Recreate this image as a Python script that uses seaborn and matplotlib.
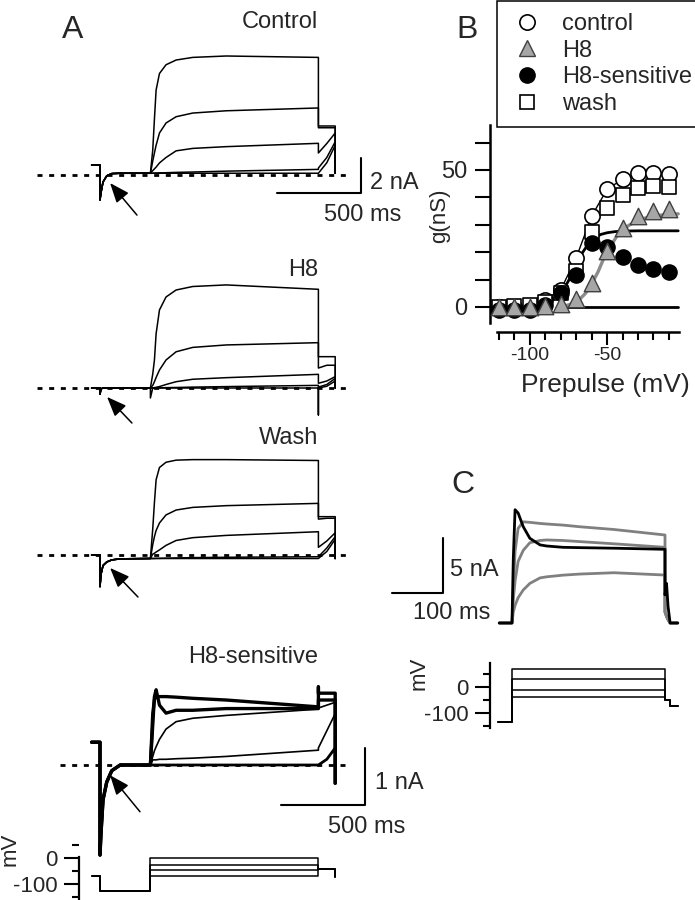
import matplotlib
matplotlib.use("Agg")
import matplotlib.pyplot as plt
import seaborn as sns
from matplotlib.lines import Line2D

# ============================
# DATA
# ============================

# --- panel A: current traces (time in ms, current in nA) ---
pre_t = [-50, 0, 0, 6, 18, 40, 70, 120, 300]
pulse_t = [300, 314, 324, 334, 354, 393, 453, 552, 751, 1300]
tail_t = [1300, 1300, 1350, 1400, 1400]

ctrl_pre = [0.57, 0.57, -1.43, -1.0, -0.4, -0.05, 0.08, 0.1, 0.1]
ctrl_pulse = [[0.1, 1.43, 3.2, 4.86, 5.8, 6.3, 6.57, 6.72, 6.8, 6.72],
              [0.1, 0.8, 1.26, 1.7, 2.4, 2.97, 3.33, 3.54, 3.67, 3.83],
              [0.1, 0.25, 0.35, 0.45, 0.69, 1.0, 1.38, 1.52, 1.62, 1.81],
              [0.1, 0.1, 0.11, 0.11, 0.12, 0.13, 0.15, 0.17, 0.22, 0.32],
              [0.1, 0.1, 0.1, 0.1, 0.1, 0.1, 0.1, 0.1, 0.1, 0.1]]
ctrl_tail = [[2.8, 2.8, 2.8, 2.8, 0.1],
             [2.7, 2.7, 2.7, 2.7, 0.1],
             [1.26, 1.26, 1.8, 2.4, 0.1],
             [0.4, 0.4, 1.0, 1.9, 0.1],
             [0.1, 0.1, 0.7, 1.7, 0.1]]

h8_pre = [0.0, 0.0, -0.35, -0.05, 0.0, 0.0, 0.0, 0.0, 0.0]
h8_pulse = [[0.0, 0.8, 1.6, 3.1, 4.46, 5.2, 5.6, 5.8, 5.89, 5.64],
            [0.0, 0.15, 0.36, 0.6, 1.03, 1.6, 2.07, 2.32, 2.46, 2.59],
            [0.0, 0.01, 0.02, 0.04, 0.08, 0.2, 0.36, 0.5, 0.59, 0.78],
            [0.0, 0.0, 0.0, 0.01, 0.01, 0.02, 0.03, 0.05, 0.08, 0.15],
            [-0.57, 0.0, 0.0, 0.0, 0.0, 0.0, 0.0, 0.0, 0.0, 0.0]]
h8_tail = [[1.79, 1.79, 1.79, 1.79, 0.0],
           [1.14, 1.14, 1.3, 1.3, 0.0],
           [0.27, 0.27, 0.4, 0.65, 0.0],
           [0.05, 0.05, 0.2, 0.55, 0.0],
           [-1.54, 0.0, 0.1, 0.4, 0.0]]

wash_pre = [0.0, 0.0, -1.81, -1.1, -0.6, -0.4, -0.28, -0.22, -0.2]
wash_pulse = [[-0.2, 1.5, 3.0, 4.3, 5.0, 5.3, 5.42, 5.45, 5.45, 5.4],
              [-0.2, 0.6, 1.05, 1.4, 1.83, 2.29, 2.57, 2.72, 2.82, 2.95],
              [-0.2, 0.05, 0.1, 0.17, 0.29, 0.55, 0.83, 0.99, 1.12, 1.33],
              [-0.2, -0.2, -0.2, -0.19, -0.19, -0.18, -0.17, -0.15, -0.13, -0.1],
              [-0.2, -0.2, -0.2, -0.2, -0.2, -0.2, -0.2, -0.2, -0.2, -0.2]]
wash_tail = [[2.19, 2.19, 2.19, 2.19, -0.2],
             [2.05, 2.05, 2.1, 2.1, -0.2],
             [0.44, 0.44, 0.8, 1.27, -0.2],
             [-0.1, -0.1, 0.4, 1.05, -0.2],
             [-0.2, -0.2, 0.2, 0.9, -0.2]]

hs_pre = [0.4, 0.4, -1.58, -1.2, -0.61, -0.3, -0.1, 0.0, 0.0]
hs_pulse = [[0.0, 0.9, 1.15, 1.2, 1.2, 1.2, 1.19, 1.17, 1.14, 1.02],
            [0.0, 0.7, 1.2, 1.32, 1.05, 0.91, 0.96, 0.96, 0.99, 0.99],
            [0.0, 0.15, 0.25, 0.32, 0.45, 0.63, 0.76, 0.82, 0.87, 0.98],
            [0.0, 0.09, 0.09, 0.09, 0.1, 0.1, 0.11, 0.12, 0.15, 0.26],
            [0.0, 0.0, 0.0, 0.0, 0.0, 0.0, 0.0, 0.0, 0.0, 0.0]]
hs_tail = [[1.37, 1.26, 1.26, 1.26, -0.32],
           [1.14, 1.14, 1.14, 1.14, -0.32],
           [0.98, 1.0, 1.05, 1.1, 0.0],
           [0.26, 0.3, 0.6, 0.9, 0.0],
           [0.0, 0.0, 0.1, 0.3, 0.0]]

# panel A voltage protocol (ms, mV)
prot_a_t = [-48, 0, 0, 300, 300, 1300, 1300, 1400, 1400]
prot_a_levels = [0, -26, -48, -70]
prot_a_hold, prot_a_pre, prot_a_tail, prot_a_end = -70, -130, -41, -74

# --- panel B: conductance vs prepulse ---
prepulse = [-120, -110, -100, -90, -80, -70, -60, -50, -40, -30, -20, -10]
g_control = [0, 0, 0, 2.7, 6.3, 18, 33.2, 43, 46.6, 49, 49, 48.5]
g_h8 = [0, 0, 0, 0.2, 1.2, 3, 8.7, 20.6, 29, 33.2, 35.2, 35.7]
g_h8s = [-1, -1, -1, 0.8, 5, 11.8, 23.3, 22, 18.2, 15.4, 13.8, 12.6]
g_wash = [0, 0.5, 0.8, 2, 5, 13, 27.5, 36, 41, 43.3, 44.2, 43.7]

fit_h8_v = [-80, -76, -72, -68, -64, -60, -56, -52, -48, -44, -40, -36, -32, -28, -24, -20, -14, -8, -4]
fit_h8_g = [0.3, 0.6, 1.3, 2.7, 5.0, 8.5, 12.7, 18.0, 22.0, 25.6, 28.0, 29.8, 31.0, 32.0, 32.7, 33.2, 33.6, 33.9, 34.0]
fit_h8s_v = [-121, -110, -100, -95, -90, -86, -82, -78, -74, -70, -66, -62, -58, -54, -50, -45, -40, -30, -4]
fit_h8s_g = [0, 0.1, 0.4, 0.8, 1.4, 2.4, 3.9, 6.6, 10.6, 15.0, 19.8, 23.2, 25.3, 26.5, 27.1, 27.5, 27.7, 27.8, 27.8]
zero_v = [-76, -4]
zero_g = [0, 0]

# --- panel C: currents (ms, nA) and protocol (mV) ---
c_t = [-25, 0, 2.5, 6, 12, 22, 35, 55, 68, 100, 133, 200, 300]
c_black = [0, 0, 5.76, 10.3, 10.0, 8.76, 7.7, 7.1, 7.0, 6.88, 6.85, 6.8, 6.7]
c_gray = [[0, 0, 3.0, 6.5, 8.6, 9.2, 9.15, 9.05, 9.0, 8.9, 8.75, 8.5, 8.0],
          [0, 0, 2.1, 3.8, 5.6, 6.6, 7.3, 7.5, 7.55, 7.5, 7.4, 7.2, 6.88],
          [0, 0, 1.0, 1.6, 2.3, 3.0, 3.6, 4.1, 4.2, 4.35, 4.45, 4.57, 4.36]]
c_tail_t = [300, 300, 303, 306, 310, 325]
c_black_tail = [6.7, 2.55, 3.6, 1.5, 0.0, 0.0]
c_gray_tail = [[8.0, 1.0, 0.6, 0.3, 0.0, 0.0],
               [6.88, 1.0, 0.6, 0.3, 0.0, 0.0],
               [4.36, 1.0, 0.6, 0.3, 0.0, 0.0]]

prot_c_t = [-27.5, 0, 0, 300, 300, 310, 310, 325]
prot_c_levels = [70, 30, -10, -40]
prot_c_hold, prot_c_tail, prot_c_end = -135, -50, -73

# ============================
# FIGURE
# ============================
sns.set_theme(style="white")
plt.rcParams['font.family'] = ['Liberation Sans', 'DejaVu Sans']
plt.rcParams['axes.unicode_minus'] = False

W, H = 695, 900
fig = plt.figure(figsize=(W / 100, H / 100), dpi=100)


def px_axes(x0, y0, x1, y1):
    ax = fig.add_axes([x0 / W, 1 - y1 / H, (x1 - x0) / W, (y1 - y0) / H])
    ax.patch.set_alpha(0)
    return ax


def draw_traces(ax, pre, pulses, tails, widths):
    for pulse, tail, lw in zip(pulses, tails, widths):
        sns.lineplot(x=pre_t + pulse_t + tail_t, y=pre + pulse + tail, ax=ax,
                     color='black', lw=lw, estimator=None, sort=False)


def arrow(ax, tip, tail):
    ax.annotate('', xy=tip, xytext=tail,
                arrowprops=dict(arrowstyle='-|>,head_length=0.8,head_width=0.32',
                                color='black', lw=1.1, mutation_scale=15,
                                shrinkA=0, shrinkB=0))


MS_PX = 1000 / 168      # ms per pixel in panel A
A_X = ((30 - 100) * MS_PX, (370 - 100) * MS_PX)
dash = dict(color='black', lw=2.0, ls=(0, (1.8, 2.4)))

# Control
ax = px_axes(30, 45, 370, 225)
ax.set_xlim(*A_X); ax.set_ylim(-50 / 17.5, 130 / 17.5)
ax.plot([-375, 1470], [0, 0], **dash)
draw_traces(ax, ctrl_pre, ctrl_pulse, ctrl_tail, [1.1] * 5)
arrow(ax, (60, -0.46), (220, -2.29))
ax.plot([1053, 1553, 1553], [-1.03, -1.03, 0.97], color='black', lw=1.5)
ax.text(1607, -0.46, '2 nA', fontsize=17, ha='left', va='center')
ax.text(1565, -2.29, '500 ms', fontsize=17, ha='center', va='center')
ax.text(1300, 8.74, 'Control', fontsize=17, ha='right', va='center')
ax.axis('off')

# H8
ax = px_axes(30, 280, 370, 430)
ax.set_xlim(*A_X); ax.set_ylim(-42 / 17.5, 108 / 17.5)
ax.plot([-375, 1470], [0, 0], **dash)
draw_traces(ax, h8_pre, h8_pulse, h8_tail, [1.1] * 5)
arrow(ax, (42, -0.51), (190, -2.0))
ax.text(1300, 6.74, 'H8', fontsize=17, ha='right', va='center')
ax.axis('off')

# Wash
ax = px_axes(30, 450, 370, 605)
ax.set_xlim(*A_X); ax.set_ylim(-50 / 17.5, 105 / 17.5)
ax.plot([-375, 1470], [0, 0], **dash)
draw_traces(ax, wash_pre, wash_pulse, wash_tail, [1.1] * 5)
arrow(ax, (60, -0.74), (226, -2.4))
ax.text(1300, 6.69, 'Wash', fontsize=17, ha='right', va='center')
ax.axis('off')

# H8-sensitive
ax = px_axes(30, 680, 370, 860)
ax.set_xlim(*A_X); ax.set_ylim(-95 / 57, 85 / 57)
ax.plot([-238, 1470], [0, 0], **dash)
draw_traces(ax, hs_pre, hs_pulse, hs_tail, [2.4, 2.4, 1.2, 1.2, 2.0])
arrow(ax, (60, -0.18), (238, -0.82))
ax.plot([1077, 1577, 1577], [-0.7, -0.7, 0.3], color='black', lw=1.5)
ax.text(1637, -0.32, '1 nA', fontsize=17, ha='left', va='center')
ax.text(1589, -1.09, '500 ms', fontsize=17, ha='center', va='center')
ax.text(1300, 1.89, 'H8-sensitive', fontsize=17, ha='right', va='center')
ax.axis('off')


def protocol_axes(ax, ylim, bounds, label_xy):
    ax.set_ylim(*ylim)
    for s in ['top', 'right', 'bottom']:
        ax.spines[s].set_visible(False)
    ax.spines['left'].set_bounds(*bounds)
    ax.spines['left'].set_linewidth(1.6)
    ax.spines['left'].set_color('black')
    ax.set_xticks([])
    ax.set_yticks([0, -100])
    ax.set_yticklabels(['0', '-100'])
    ax.set_yticks([50, -50, -150], minor=True)
    ax.tick_params(axis='y', which='major', length=10.5, width=1.5, pad=5,
                   labelsize=16, left=True, color='black')
    ax.tick_params(axis='y', which='minor', length=5, width=1.5, left=True,
                   color='black')
    ax.set_ylabel('mV', fontsize=16)
    ax.yaxis.set_label_coords(*label_xy)


# panel A protocol
ax = px_axes(79, 845, 370, 900)
ax.set_xlim((79 - 100) * MS_PX, A_X[1])
for lev in prot_a_levels:
    v = [prot_a_hold, prot_a_hold, prot_a_pre, prot_a_pre, lev, lev,
         prot_a_tail, prot_a_tail, prot_a_end]
    sns.lineplot(x=prot_a_t, y=v, ax=ax, color='black', lw=1.1,
                 estimator=None, sort=False)
protocol_axes(ax, (-44 / 0.27, 11 / 0.27), (-163, 4), (-0.2, 0.93))

# ============================
# PANEL B
# ============================
axb = px_axes(490, 125, 680, 332)
axb.set_xlim(-120 - 9 / 1.545, -120 + 181 / 1.545)
axb.set_ylim(-25 / 2.74, 182 / 2.74)
sns.lineplot(x=zero_v, y=zero_g, ax=axb, color='black', lw=2, estimator=None)
sns.lineplot(x=fit_h8_v, y=fit_h8_g, ax=axb, color='#8c8c8c', lw=2.4, estimator=None)
sns.lineplot(x=fit_h8s_v, y=fit_h8s_g, ax=axb, color='black', lw=2, estimator=None)
sns.lineplot(x=prepulse, y=g_control, ax=axb, color='black', lw=1, estimator=None)
sns.scatterplot(x=prepulse, y=g_control, ax=axb, marker='o', s=120, color='white',
                edgecolor='black', linewidth=1.2, zorder=3)
sns.scatterplot(x=prepulse, y=g_wash, ax=axb, marker='s', s=95, color='white',
                edgecolor='black', linewidth=1.2, zorder=3)
sns.scatterplot(x=prepulse, y=g_h8s, ax=axb, marker='o', s=120, color='black',
                edgecolor='black', linewidth=1.0, zorder=4)
sns.scatterplot(x=prepulse, y=g_h8, ax=axb, marker='^', s=140, color='#a6a6a6',
                edgecolor='#404040', linewidth=1.0, zorder=4)

for s in ['top', 'right']:
    axb.spines[s].set_visible(False)
for s in ['left', 'bottom']:
    axb.spines[s].set_linewidth(1.8)
    axb.spines[s].set_color('black')
axb.spines['left'].set_bounds(-5.8, 66.4)
axb.spines['bottom'].set_bounds(-121.2, -3.5)
axb.set_yticks([0, 50])
axb.set_yticks([10, 20, 30, 40, 60], minor=True)
axb.set_xticks([-100, -50])
axb.set_xticks([-120, -110, -90, -80, -70, -60, -40, -30, -20, -10], minor=True)
axb.tick_params(axis='y', which='both', length=10.5, width=1.5, pad=6,
                labelsize=17, left=True, color='black')
axb.tick_params(axis='x', which='major', length=9, width=1.5, pad=2,
                labelsize=14, bottom=True, color='black')
axb.tick_params(axis='x', which='minor', length=6, width=1.5, bottom=True,
                color='black')
axb.set_ylabel('g(nS)', fontsize=16)
axb.yaxis.set_label_coords(-0.21, 0.56)
axb.set_xlabel('Prepulse (mV)', fontsize=19)
axb.xaxis.set_label_coords(0.605, -0.2)

handles = [
    Line2D([], [], ls='none', marker='o', ms=11, mfc='white', mec='black', mew=1.2, label='control'),
    Line2D([], [], ls='none', marker='^', ms=12, mfc='#a6a6a6', mec='#404040', mew=1.0, label='H8'),
    Line2D([], [], ls='none', marker='o', ms=11, mfc='black', mec='black', label='H8-sensitive'),
    Line2D([], [], ls='none', marker='s', ms=10, mfc='white', mec='black', mew=1.2, label='wash'),
]
leg = axb.legend(handles=handles, loc='upper left', bbox_to_anchor=(497 / W, 1 - 1 / H),
                 bbox_transform=fig.transFigure, frameon=True, fancybox=False,
                 edgecolor='black', framealpha=1, fontsize=17, borderpad=0.5,
                 handlelength=1.5, handletextpad=0.75, labelspacing=0.2,
                 borderaxespad=0)
leg.get_frame().set_linewidth(1.1)

# ============================
# PANEL C
# ============================
axc = px_axes(385, 495, 690, 640)
axc.set_xlim((385 - 512) / 0.51, (690 - 512) / 0.51)
axc.set_ylim(-17 / 11, 128 / 11)
for cur, tail in zip(c_gray, c_gray_tail):
    sns.lineplot(x=c_t + c_tail_t, y=cur + tail, ax=axc, color='#808080', lw=2,
                 estimator=None, sort=False)
sns.lineplot(x=c_t + c_tail_t, y=c_black + c_black_tail, ax=axc, color='black',
             lw=2, estimator=None, sort=False)
axc.plot([-235, -135, -135], [2.73, 2.73, 7.73], color='black', lw=1.5)
axc.text(-121.6, 4.8, '5 nA', fontsize=17, ha='left', va='center')
axc.text(-43, 0.9, '100 ms', fontsize=17, ha='right', va='center')
axc.axis('off')

axp = px_axes(490, 660, 690, 730)
axp.set_xlim(-43, 349)
for lev in prot_c_levels:
    v = [prot_c_hold, prot_c_hold, lev, lev, prot_c_tail, prot_c_tail,
         prot_c_end, prot_c_end]
    sns.lineplot(x=prot_c_t, y=v, ax=axp, color='black', lw=1.1,
                 estimator=None, sort=False)
protocol_axes(axp, (-43 / 0.26, 27 / 0.26), (-158, 92), (-0.3, 0.81))

# panel letters
fig.text(73 / W, 1 - 30 / H, 'A', fontsize=23, ha='center', va='center')
fig.text(467 / W, 1 - 30 / H, 'B', fontsize=23, ha='center', va='center')
fig.text(463 / W, 1 - 485 / H, 'C', fontsize=23, ha='center', va='center')

fig.savefig('out.png', dpi=100)
